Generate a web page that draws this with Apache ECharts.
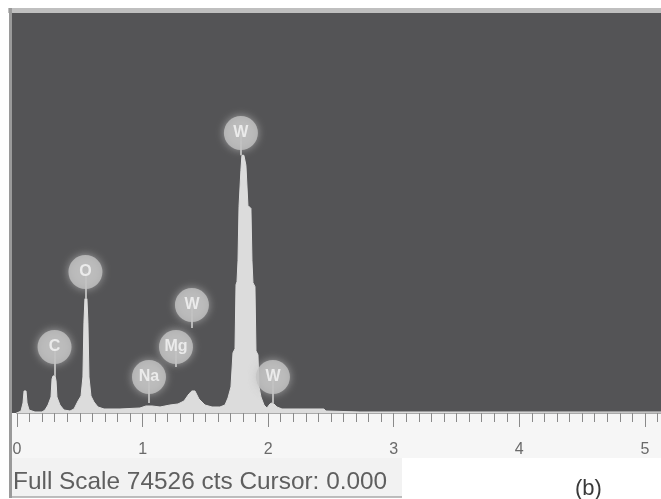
<!DOCTYPE html>
<html>
<head>
<meta charset="utf-8">
<script src="https://cdn.jsdelivr.net/npm/echarts@6/dist/echarts.min.js"></script>
<style>
  html, body { margin: 0; padding: 0; background: #ffffff; }
  #main { width: 661px; height: 499px; }
</style>
</head>
<body>
<div id="main"></div>
<script>
// 能谱数据 (keV, cts)
var spectrumKeV = [0, 0.016, 0.032, 0.048, 0.056, 0.072, 0.080, 0.096, 0.143, 0.199,
    0.223, 0.247, 0.271, 0.279, 0.287, 0.303, 0.311, 0.318, 0.342, 0.374, 0.422,
    0.454, 0.486, 0.510, 0.525, 0.533, 0.541, 0.557, 0.565, 0.573, 0.589, 0.613, 0.645, 0.693,
    0.820, 0.979, 1.027, 1.075, 1.139, 1.218, 1.282, 1.330, 1.369, 1.393, 1.417, 1.449, 1.497, 1.553, 1.616,
    1.656, 1.680, 1.704, 1.720, 1.736, 1.744, 1.752, 1.760, 1.768, 1.783, 1.791, 1.807, 1.823, 1.839,
    1.863, 1.871, 1.879, 1.895, 1.903, 1.919, 1.927, 1.943, 1.967, 1.990,
    2.014, 2.030, 2.046, 2.070, 2.110, 2.253, 2.444, 2.460, 2.731, 3.447, 5.2];
var spectrumCts = [0, 190, 370, 1870, 4110, 4110, 1870, 560, 190, 190,
    560, 1490, 2990, 6350, 6910, 6910, 5980, 2990, 1490, 560, 370,
    750, 2240, 3180, 6720, 16810, 21300, 21300, 16810, 6720, 3180, 2050, 1120, 750,
    750, 930, 1310, 1310, 1120, 1490, 1680, 2240, 3550, 4110, 4110, 2620, 1490, 1120, 1120,
    1490, 2800, 4860, 11210, 11960, 23910, 24470, 28390, 38480, 45210, 48010, 48010, 46140, 38670,
    38110, 28390, 24280, 23540, 11580, 10830, 4860, 2990, 1490, 930,
    1680, 1870, 1680, 1120, 750, 750, 750, 370, 190, 190, 190];

// 元素标记
var elementNames = ['C', 'O', 'Na', 'Mg', 'W', 'W', 'W'];
var elementKeV = [0.299, 0.545, 1.051, 1.266, 1.393, 1.783, 2.038];
var labelCts = [12300, 26270, 6710, 12300, 20120, 52160, 6710];
var stemEndCts = [6910, 21300, 1860, 8570, 15840, 48010, 1860];

var fullScale = 74526;
var axisTicks = [0, 1, 2, 3, 4, 5];

var spectrumData = [];
for (var i = 0; i < spectrumKeV.length; i++) {
    spectrumData.push([spectrumKeV[i], spectrumCts[i]]);
}
var markerData = [];
var stemData = [];
for (var j = 0; j < elementNames.length; j++) {
    markerData.push({ name: elementNames[j], value: [elementKeV[j], labelCts[j]] });
    stemData.push({ coords: [[elementKeV[j], stemEndCts[j]], [elementKeV[j], labelCts[j]]] });
}

function isWhole(v) {
    return Math.abs(v - Math.round(v)) < 1e-6;
}

var chart = echarts.init(document.getElementById('main'));
var option = {
    backgroundColor: '#ffffff',
    animation: false,
    grid: { left: 17, top: 13, width: 653, height: 400, outerBoundsMode: 'none', containLabel: false },
    graphic: [
        { type: 'rect', z: -20, shape: { x: 12, y: 13, width: 649, height: 400 }, style: { fill: '#545456' } },
        { type: 'rect', z: -20, shape: { x: 8, y: 8, width: 653, height: 5 }, style: { fill: '#bfbfbf' } },
        { type: 'rect', z: -20, shape: { x: 12, y: 413, width: 649, height: 45 }, style: { fill: '#f6f6f6' } },
        { type: 'rect', z: -20, shape: { x: 12, y: 458, width: 390, height: 39 }, style: { fill: '#f2f2f2' } },
        { type: 'line', z: -15, shape: { x1: 12, y1: 497, x2: 402, y2: 497 }, style: { stroke: '#a8a8a8', lineWidth: 1.5 } },
        { type: 'line', z: -15, shape: { x1: 10.5, y1: 8, x2: 10.5, y2: 498 }, style: { stroke: '#9a9a9a', lineWidth: 3 } },
        { type: 'text', z: 10, x: 13, y: 470, style: { text: 'Full Scale ' + fullScale + ' cts Cursor: 0.000', fill: '#5f5f5f', font: '24.4px "Liberation Sans", Arial, sans-serif' } },
        { type: 'text', z: 10, x: 575, y: 478, style: { text: '(b)', fill: '#3a3a3a', font: '22px "Liberation Sans", Arial, sans-serif' } }
    ],
    xAxis: [{
        type: 'value', min: 0, max: 5.2, interval: 1, position: 'bottom',
        axisLine: { show: true, lineStyle: { color: '#a9a9a9', width: 2 } },
        axisTick: { show: true, length: 14, lineStyle: { color: '#8a8a8a', width: 1 } },
        axisLabel: {
            margin: 29, color: '#6a6a6a', fontSize: 16, fontFamily: '"Liberation Sans", Arial, sans-serif',
            formatter: function (v) { return (isWhole(v) && axisTicks.indexOf(Math.round(v)) >= 0) ? String(Math.round(v)) : ''; }
        },
        splitLine: { show: false }
    }, {
        type: 'value', min: 0, max: 5.2, interval: 0.1, position: 'bottom',
        axisLine: { show: false },
        axisTick: { show: true, length: 9, lineStyle: { color: '#8a8a8a', width: 1 } },
        axisLabel: { show: false },
        splitLine: { show: false }
    }],
    yAxis: { type: 'value', min: 0, max: fullScale, show: false },
    series: [{
        type: 'line',
        data: spectrumData,
        showSymbol: false,
        smooth: false,
        lineStyle: { color: '#dedede', width: 1 },
        areaStyle: { color: '#dcdcdc', opacity: 1 },
        z: 2
    }, {
        type: 'lines',
        coordinateSystem: 'cartesian2d',
        data: stemData,
        lineStyle: { color: '#b8b8b8', width: 2, opacity: 1 },
        z: 3
    }, {
        type: 'scatter',
        data: markerData,
        symbol: 'circle',
        symbolSize: 34,
        itemStyle: { color: '#c3c3c3', shadowBlur: 8, shadowColor: 'rgba(190,190,190,0.9)' },
        label: {
            show: true, position: 'inside', formatter: '{b}',
            color: '#f6f6f6', fontSize: 16, fontWeight: 'bold', fontFamily: '"Liberation Sans", Arial, sans-serif'
        },
        z: 4
    }]
};
chart.setOption(option);
</script>
</body>
</html>
